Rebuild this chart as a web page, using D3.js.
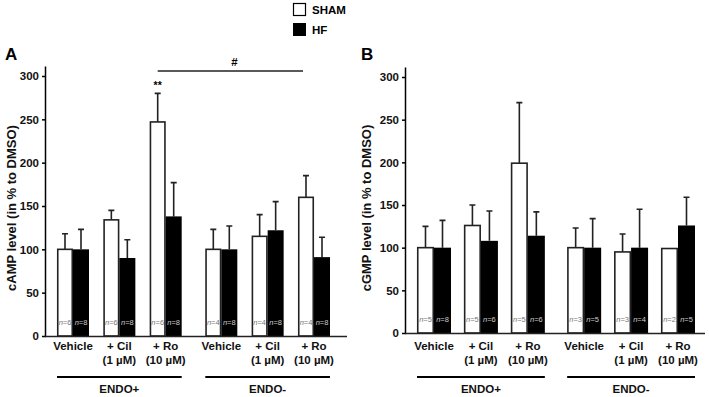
<!DOCTYPE html>
<html>
  <head>
    <style>
      body { margin: 0; background: #fff; }
      svg { font-family: 'Liberation Sans', Arial, sans-serif; font-weight: bold; }
    </style>
  </head>
  <body>
    <svg id="svg" width="709" height="397"></svg>
    <script src="https://cdn.jsdelivr.net/npm/d3@7"></script>
    <script>
      const treatments = [['Vehicle'], ['+ Cil', '(1 µM)'], ['+ Ro', '(10 µM)'],
                          ['Vehicle'], ['+ Cil', '(1 µM)'], ['+ Ro', '(10 µM)']];
      const groups = ['ENDO+', 'ENDO-'];
      const yTicks = [0, 50, 100, 150, 200, 250, 300];

      // panel A (cAMP)
      const campSham = [100, 134, 247, 100, 115, 160];
      const campShamErr = [118, 145, 280, 123, 140, 185];
      const campHf = [100, 90, 138, 100, 122, 91];
      const campHfErr = [123, 111, 177, 127, 155, 114];
      const campShamN = [6, 6, 6, 4, 4, 4];
      const campHfN = [8, 8, 8, 8, 8, 8];

      // panel B (cGMP)
      const cgmpSham = [100, 126, 199, 100, 95, 99];
      const cgmpShamErr = [125, 150, 270, 123, 116, null];
      const cgmpHf = [100, 108, 114, 100, 100, 126];
      const cgmpHfErr = [132, 143, 142, 134, 145, 159];
      const cgmpShamN = [5, 5, 5, 3, 3, 2];
      const cgmpHfN = [8, 6, 6, 5, 4, 5];

      const svg = d3.select('#svg');

      // legend
      const legend = svg.append('g');
      legend.append('rect').attr('x', 293.5).attr('y', 3.5).attr('width', 12).attr('height', 12)
        .attr('fill', '#fff').attr('stroke', '#000').attr('stroke-width', 1.2);
      legend.append('rect').attr('x', 293).attr('y', 23).attr('width', 13).attr('height', 13).attr('fill', '#000');
      legend.append('text').attr('x', 312).attr('y', 13.5).attr('font-size', 11.5).text('SHAM');
      legend.append('text').attr('x', 312).attr('y', 33.5).attr('font-size', 11.5).text('HF');

      function drawPanel(opt) {
        const g = svg.append('g');
        const y = d3.scaleLinear().domain([0, 300]).range([opt.y0, opt.y300]);
        // ENDO- bars sit a bit further out than the step
        const pos = [0, 1, 2, 3.2, 4.2, 5.2];
        const x = d3.scaleLinear().domain([0, 5.2]).range([opt.c0, opt.c5]);
        const bw = opt.bw;

        // panel letter
        g.append('text').attr('x', opt.letterX).attr('y', 60).attr('font-size', 17).text(opt.letter);

        // y axis
        const axis = d3.axisLeft(y).tickValues(yTicks).tickSize(4).tickPadding(3);
        const ag = g.append('g').attr('transform', `translate(${opt.axisX},0)`).call(axis);
        ag.select('.domain').attr('d', `M-0.5,${opt.y0}V${y(311)}`).attr('stroke-width', 1.5);
        ag.selectAll('.tick line').attr('stroke-width', 1.5);
        ag.selectAll('.tick text').attr('font-size', 11.5).attr('font-weight', 'bold')
          .attr('font-family', "'Liberation Sans', Arial, sans-serif").attr('fill', '#111');

        g.append('text')
          .attr('transform', `translate(${opt.titleX},208) rotate(-90)`)
          .attr('text-anchor', 'middle').attr('font-size', 13).attr('fill', '#111')
          .text(opt.title);

        const rows = opt.sham.map((v, i) => ({
          i, sham: v, shamErr: opt.shamErr[i], hf: opt.hf[i], hfErr: opt.hfErr[i],
          shamN: opt.shamN[i], hfN: opt.hfN[i]
        }));

        const bars = g.selectAll('.grp').data(rows).join('g')
          .attr('transform', (d) => `translate(${x(pos[d.i])},0)`);

        // error bars
        const err = (sel, key, val, cx) => {
          sel.filter((d) => d[key] != null).append('path')
            .attr('d', (d) => `M${cx},${y(d[val])}V${y(d[key])}M${cx - 3},${y(d[key])}H${cx + 3}`)
            .attr('stroke', '#222').attr('stroke-width', 1.6).attr('fill', 'none');
        };
        err(bars, 'shamErr', 'sham', -bw / 2);
        err(bars, 'hfErr', 'hf', bw / 2);

        bars.append('rect')
          .attr('x', -bw + 0.75).attr('width', bw - 1.5)
          .attr('y', (d) => y(d.sham)).attr('height', (d) => opt.y0 - y(d.sham))
          .attr('fill', '#fff').attr('stroke', '#222').attr('stroke-width', 1.6);
        bars.append('rect')
          .attr('x', 0).attr('width', bw)
          .attr('y', (d) => y(d.hf)).attr('height', (d) => opt.y0 - y(d.hf))
          .attr('fill', '#000');

        // n labels
        const nLabel = (sel, key, cx, col) => {
          const t = sel.append('text').attr('x', cx).attr('y', opt.y0 - 11)
            .attr('text-anchor', 'middle').attr('font-size', 7.5).attr('font-weight', 'normal')
            .attr('fill', col);
          t.append('tspan').attr('font-style', 'italic').text('n');
          t.append('tspan').text((d) => '=' + d[key]);
        };
        nLabel(bars, 'shamN', -bw / 2, '#777');
        nLabel(bars, 'hfN', bw / 2, '#ccc');

        // x axis
        g.append('path').attr('d', `M${opt.axisX - 1},${opt.y0 + 0.5}H${opt.axisEnd}`)
          .attr('stroke', '#222').attr('stroke-width', 1.5);

        // category labels
        const lab = bars.append('text').attr('text-anchor', 'middle').attr('font-size', 11.5).attr('fill', '#111');
        lab.selectAll('tspan').data((d) => treatments[d.i]).join('tspan')
          .attr('x', 0).attr('y', (d, k) => 350 + k * 14).text((d) => d);

        // group lines
        groups.forEach((name, k) => {
          const x1 = x(pos[k * 3]) - bw, x2 = x(pos[k * 3 + 2]) + bw;
          g.append('path').attr('d', `M${x1},377H${x2}`).attr('stroke', '#000').attr('stroke-width', 2);
          g.append('text').attr('x', (x1 + x2) / 2).attr('y', 393).attr('text-anchor', 'middle')
            .attr('font-size', 11.5).attr('fill', '#111').text(name);
        });
        return { x, y, pos };
      }

      const A = drawPanel({
        letter: 'A', letterX: 5, title: 'cAMP level (in % to DMSO)', titleX: 16,
        axisX: 46, axisEnd: 347, y0: 336, y300: 76, c0: 73, c5: 314, bw: 16,
        sham: campSham, shamErr: campShamErr, hf: campHf, hfErr: campHfErr,
        shamN: campShamN, hfN: campHfN
      });
      drawPanel({
        letter: 'B', letterX: 361, title: 'cGMP level (in % to DMSO)', titleX: 371,
        axisX: 406, axisEnd: 705, y0: 333, y300: 77, c0: 434, c5: 678, bw: 17,
        sham: cgmpSham, shamErr: cgmpShamErr, hf: cgmpHf, hfErr: cgmpHfErr,
        shamN: cgmpShamN, hfN: cgmpHfN
      });

      // significance marks on panel A
      const sx1 = A.x(A.pos[2]) - 8, sx2 = A.x(A.pos[5]) - 11;
      svg.append('path').attr('d', `M${sx1},71H${sx2}`).attr('stroke', '#222').attr('stroke-width', 1.5);
      svg.append('text').attr('x', (sx1 + sx2) / 2 + 4).attr('y', 66).attr('text-anchor', 'middle')
        .attr('font-size', 11.5).text('#');
      svg.append('text').attr('x', sx1).attr('y', A.y(campShamErr[2]) - 4).attr('text-anchor', 'middle')
        .attr('font-size', 10.5).text('**');
    </script>
  </body>
</html>
